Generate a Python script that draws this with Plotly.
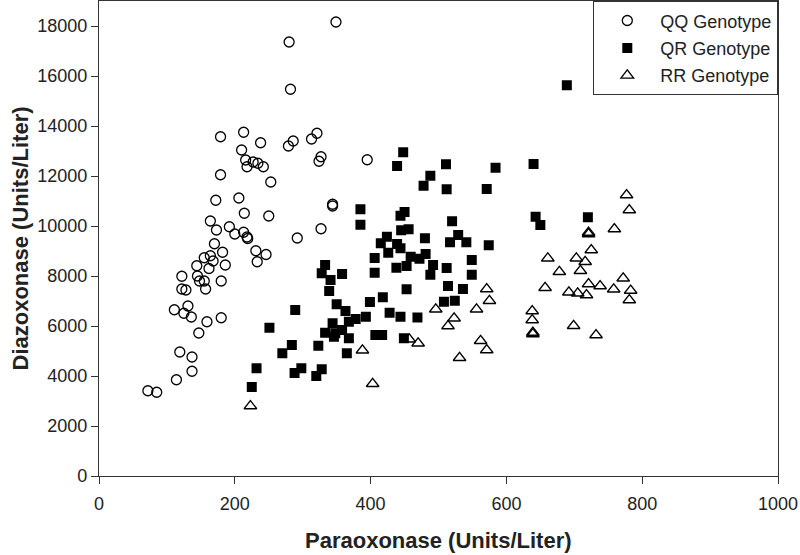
import plotly.graph_objects as go

# paraoxonase (x) vs diazoxonase (y)
qq_x = [349, 280, 282, 179, 213, 238, 210, 279, 286, 313, 321, 327, 324, 216, 218,
        227, 234, 242, 179, 253, 172, 206, 344, 344, 395, 214, 250, 164, 192, 173,
        200, 213, 218, 219, 292, 327, 170, 182, 231, 246, 233, 155, 164, 168, 144,
        186, 162, 122, 145, 148, 155, 180, 157, 122, 128, 131, 111, 125, 136, 180,
        159, 147, 119, 137, 137, 114, 72, 85]
qq_y = [18160, 17360, 15470, 13570, 13750, 13330, 13040, 13200, 13400, 13480, 13710,
        12770, 12590, 12640, 12370, 12560, 12510, 12370, 12050, 11760, 11030, 11120,
        10870, 10800, 12650, 10510, 10400, 10200, 9970, 9840, 9680, 9750, 9560, 9500,
        9520, 9890, 9290, 8950, 9010, 8860, 8570, 8730, 8810, 8600, 8410, 8440, 8300,
        7990, 8000, 7800, 7800, 7800, 7480, 7480, 7440, 6800, 6650, 6510, 6360, 6330,
        6170, 5720, 4960, 4760, 4190, 3850, 3410, 3350]

qr_x = [448, 439, 511, 488, 478, 512, 584, 571, 385, 385, 450, 444, 445, 456, 520,
        529, 541, 517, 574, 424, 415, 426, 444, 439, 480, 459, 472, 481, 406, 406,
        438, 453, 492, 488, 512, 549, 549, 453, 514, 536, 508, 524, 333, 328, 341,
        358, 339, 418, 399, 350, 363, 428, 444, 469, 393, 378, 368, 344, 333, 348,
        358, 346, 368, 323, 365, 407, 417, 449, 289, 251, 284, 270, 232, 288, 298,
        320, 328, 225, 640, 643, 650, 720, 689]
qr_y = [12950, 12400, 12470, 12010, 11610, 11470, 12330, 11480, 10670, 10050, 10560,
        10410, 9830, 9870, 10190, 9640, 9350, 9350, 9230, 9570, 9310, 8930, 9110,
        9280, 9510, 8770, 8690, 8880, 8720, 8130, 8330, 8400, 8440, 8050, 8320, 8640,
        8050, 7470, 7600, 7480, 6970, 7010, 8440, 8110, 7840, 8080, 7400, 7150, 6960,
        6870, 6600, 6530, 6370, 6340, 6370, 6280, 6170, 6110, 5730, 5710, 5840, 5570,
        5510, 5210, 4910, 5640, 5640, 5510, 6640, 5930, 5240, 4910, 4310, 4120, 4310,
        4000, 4270, 3560, 12480, 10370, 10040, 10350, 15630]

rr_x = [223, 388, 403, 571, 575, 556, 496, 523, 514, 470, 457, 562, 571, 531, 638,
        638, 639, 639, 721, 721, 759, 777, 781, 725, 661, 703, 716, 678, 709, 772,
        657, 692, 705, 718, 721, 738, 758, 783, 781, 699, 732]
rr_y = [2800, 5030, 3690, 7480, 7010, 6670, 6670, 6310, 6000, 5310, 5470, 5410, 5040,
        4730, 6600, 6240, 5740, 5680, 9740, 9680, 9880, 11240, 10640, 9040, 8710, 8710,
        8570, 8170, 8210, 7910, 7530, 7350, 7310, 7240, 7680, 7600, 7470, 7420, 7040,
        6010, 5640]

x_ticks = [0, 200, 400, 600, 800, 1000]
y_ticks = [0, 2000, 4000, 6000, 8000, 10000, 12000, 14000, 16000, 18000]

font = "Arial"

fig = go.Figure()
fig.add_trace(go.Scatter(x=qq_x, y=qq_y, mode="markers", name="QQ Genotype", legendgroup="qq",
                         marker=dict(symbol="circle-open", size=10, color="black",
                                     line=dict(width=1.3, color="black"))))
fig.add_trace(go.Scatter(x=qr_x, y=qr_y, mode="markers", name="QR Genotype", legendgroup="qr",
                         marker=dict(symbol="square", size=10, color="black")))
fig.add_trace(go.Scatter(x=rr_x, y=rr_y, mode="markers", name="RR Genotype", legendgroup="rr",
                         marker=dict(symbol="triangle-up-open", size=11, color="black",
                                     line=dict(width=1.3, color="black"))))

axis_common = dict(showgrid=False, zeroline=False, showline=True, linecolor="#333",
                   linewidth=1.3, mirror=True, ticks="outside", ticklen=7, tickwidth=1.3,
                   tickcolor="#333", automargin=False,
                   tickfont=dict(family=font, size=18, color="#222"))

fig.update_layout(
    width=800, height=555,
    margin=dict(l=99, r=22, t=1, b=79),
    plot_bgcolor="white", paper_bgcolor="white",
    font=dict(family=font, color="#222"),
    xaxis=dict(range=[0, 1000], tickvals=x_ticks, ticktext=[str(v) for v in x_ticks],
               ticklabelstandoff=4, **axis_common),
    yaxis=dict(range=[0, 19000], tickvals=y_ticks, ticktext=[str(v) for v in y_ticks],
               **axis_common),
    legend=dict(x=1, y=1, xanchor="right", yanchor="top", bordercolor="#333", borderwidth=1.3,
                bgcolor="white", font=dict(family=font, size=18, color="#222"),
                itemwidth=56, tracegroupgap=1, entrywidth=190),
    showlegend=True,
    annotations=[
        dict(text="<b>Paraoxonase (Units/Liter)</b>", xref="paper", yref="paper",
             x=0.5, y=0, yshift=-64, xanchor="center", yanchor="middle", showarrow=False,
             font=dict(family=font, size=22, color="#222")),
        dict(text="<b>Diazoxonase (Units/Liter)</b>", xref="paper", yref="paper",
             x=0, y=0.5, xshift=-79, xanchor="center", yanchor="middle", textangle=-90,
             showarrow=False, font=dict(family=font, size=22, color="#222")),
    ],
)

fig.write_html("out.html", config={"displayModeBar": False},
               post_script="document.body.style.margin='0';")
